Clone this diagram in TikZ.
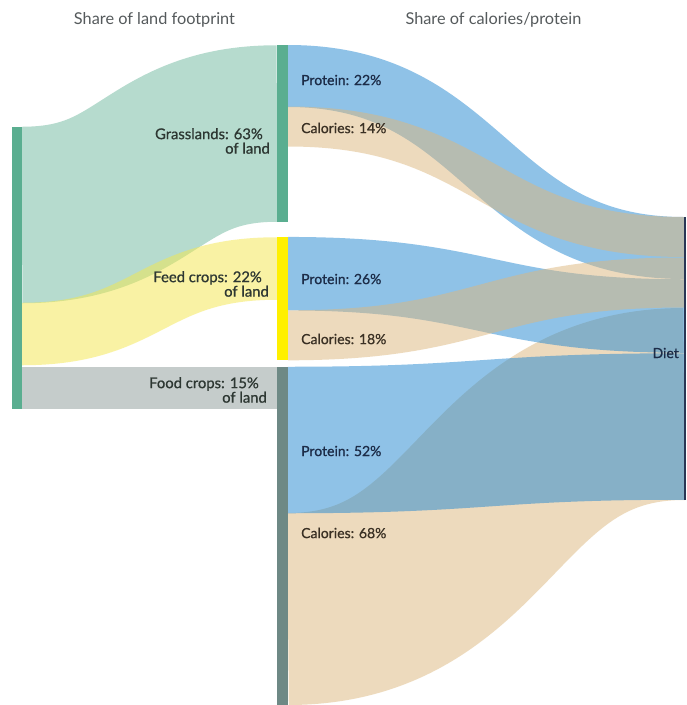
\documentclass[tikz,border=0pt]{standalone}
\usepackage{fontspec}
\setmainfont{Lato}
\newfontfamily\labfont{Lato}[FakeBold=0.8]
\definecolor{grassbar}{RGB}{90,174,144}
\definecolor{grassflow}{RGB}{182,219,206}
\definecolor{feedbar}{RGB}{255,240,0}
\definecolor{feedflow}{RGB}{245,231,75}
\definecolor{foodbar}{RGB}{110,137,133}
\definecolor{foodflow}{RGB}{197,204,203}
\definecolor{protc}{RGB}{33,135,209}
\definecolor{calc}{RGB}{221,183,125}
\definecolor{dietbar}{RGB}{40,55,85}
\definecolor{headc}{RGB}{85,90,92}
\definecolor{leftlab}{RGB}{45,55,50}
\definecolor{protlab}{RGB}{28,44,72}
\definecolor{callab}{RGB}{58,48,36}
\begin{document}
\begin{tikzpicture}[x=1pt,y=-1pt,
  flow/.style={line cap=butt},
  protflow/.style={flow, draw=protc, draw opacity=0.5},
  calflow/.style={flow, draw=calc, draw opacity=0.5},
  bar/.style={rectangle, inner sep=0pt, outer sep=0pt, draw=none, anchor=north west},
  head/.style={font=\fontsize{16.3}{18}\selectfont, text=headc},
  leftl/.style={font=\labfont\fontsize{14.8}{14.5}\selectfont, text=leftlab, align=right, anchor=east, inner sep=0pt},
  rightl/.style={font=\labfont\fontsize{14}{16}\selectfont, anchor=west, inner sep=0pt}]
\useasboundingbox (0,0) rectangle (687,705);
\fill[white] (0,0) rectangle (687,705);

% flow end points (left stage)
\coordinate (g0) at (22,215);   \coordinate (g1) at (277,133.5);
\coordinate (y0) at (22,334);   \coordinate (y1) at (277,268.5);
\coordinate (f0) at (22,388);   \coordinate (f1) at (277,388);
% flow end points (right stage)
\coordinate (gp0) at (288,76);    \coordinate (gp1) at (684,248);
\coordinate (gc0) at (288,126.5); \coordinate (gc1) at (684,237);
\coordinate (fp0) at (288,273.7); \coordinate (fp1) at (684,316);
\coordinate (fc0) at (288,335.3); \coordinate (fc1) at (684,282.5);
\coordinate (op0) at (288,440);   \coordinate (op1) at (684,426.5);
\coordinate (oc0) at (288,609);   \coordinate (oc1) at (684,404);

% left flows
\draw[flow, grassflow, line width=176.5pt] (g0) .. controls +(127.5,0) and +(-127.5,0) .. (g1);
\draw[flow, draw=feedflow, draw opacity=0.5, line width=62.5pt] (y0) .. controls +(127.5,0) and +(-127.5,0) .. (y1);
\draw[flow, foodflow, line width=42pt] (f0) -- (f1);

% right flows
\draw[calflow, line width=192pt] (oc0) .. controls +(198,0) and +(-198,0) .. (oc1);
\draw[protflow, line width=146.5pt] (op0) .. controls +(198,0) and +(-198,0) .. (op1);
\draw[protflow, line width=73.5pt] (fp0) .. controls +(198,0) and +(-198,0) .. (fp1);
\draw[protflow, line width=62pt] (gp0) .. controls +(198,0) and +(-198,0) .. (gp1);
\draw[calflow, line width=50pt] (fc0) .. controls +(198,0) and +(-198,0) .. (fc1);
\draw[calflow, line width=40pt] (gc0) .. controls +(198,0) and +(-198,0) .. (gc1);

% bars
\node[bar, fill=grassbar, minimum width=10pt, minimum height=282pt] (land) at (12,127) {};
\node[bar, fill=grassbar, minimum width=11pt, minimum height=177pt] (grass) at (277,45) {};
\node[bar, fill=feedbar, minimum width=11pt, minimum height=123pt] (feed) at (277,237) {};
\node[bar, fill=foodbar, minimum width=11pt, minimum height=338pt] (food) at (277,367) {};
\node[bar, fill=dietbar, minimum width=2.5pt, minimum height=283pt] (diet) at (683.5,217) {};

% headers
\node[head] (h1) at (154.5,20) {Share of land footprint};
\node[head] (h2) at (493.5,20) {Share of calories/protein};

% left labels
\node[leftl] (lg) at (270,141) {Grasslands: 63\%\hspace*{7pt}\\of land};
\node[leftl] (lf) at (269,284) {Feed crops: 22\%\hspace*{7pt}\\of land};
\node[leftl] (lo) at (267,390) {Food crops: 15\%\hspace*{8pt}\\of land};

% right labels
\node[rightl, text=protlab] (p1) at (301,80) {Protein: 22\%};
\node[rightl, text=callab] (c1) at (301,128) {Calories: 14\%};
\node[rightl, text=protlab] (p2) at (301,279) {Protein: 26\%};
\node[rightl, text=callab] (c2) at (301,339) {Calories: 18\%};
\node[rightl, text=protlab] (p3) at (301,451) {Protein: 52\%};
\node[rightl, text=callab] (c3) at (301,533) {Calories: 68\%};
\node[rightl, text=protlab, anchor=east] (dl) at (679,353) {Diet};
\end{tikzpicture}
\end{document}
